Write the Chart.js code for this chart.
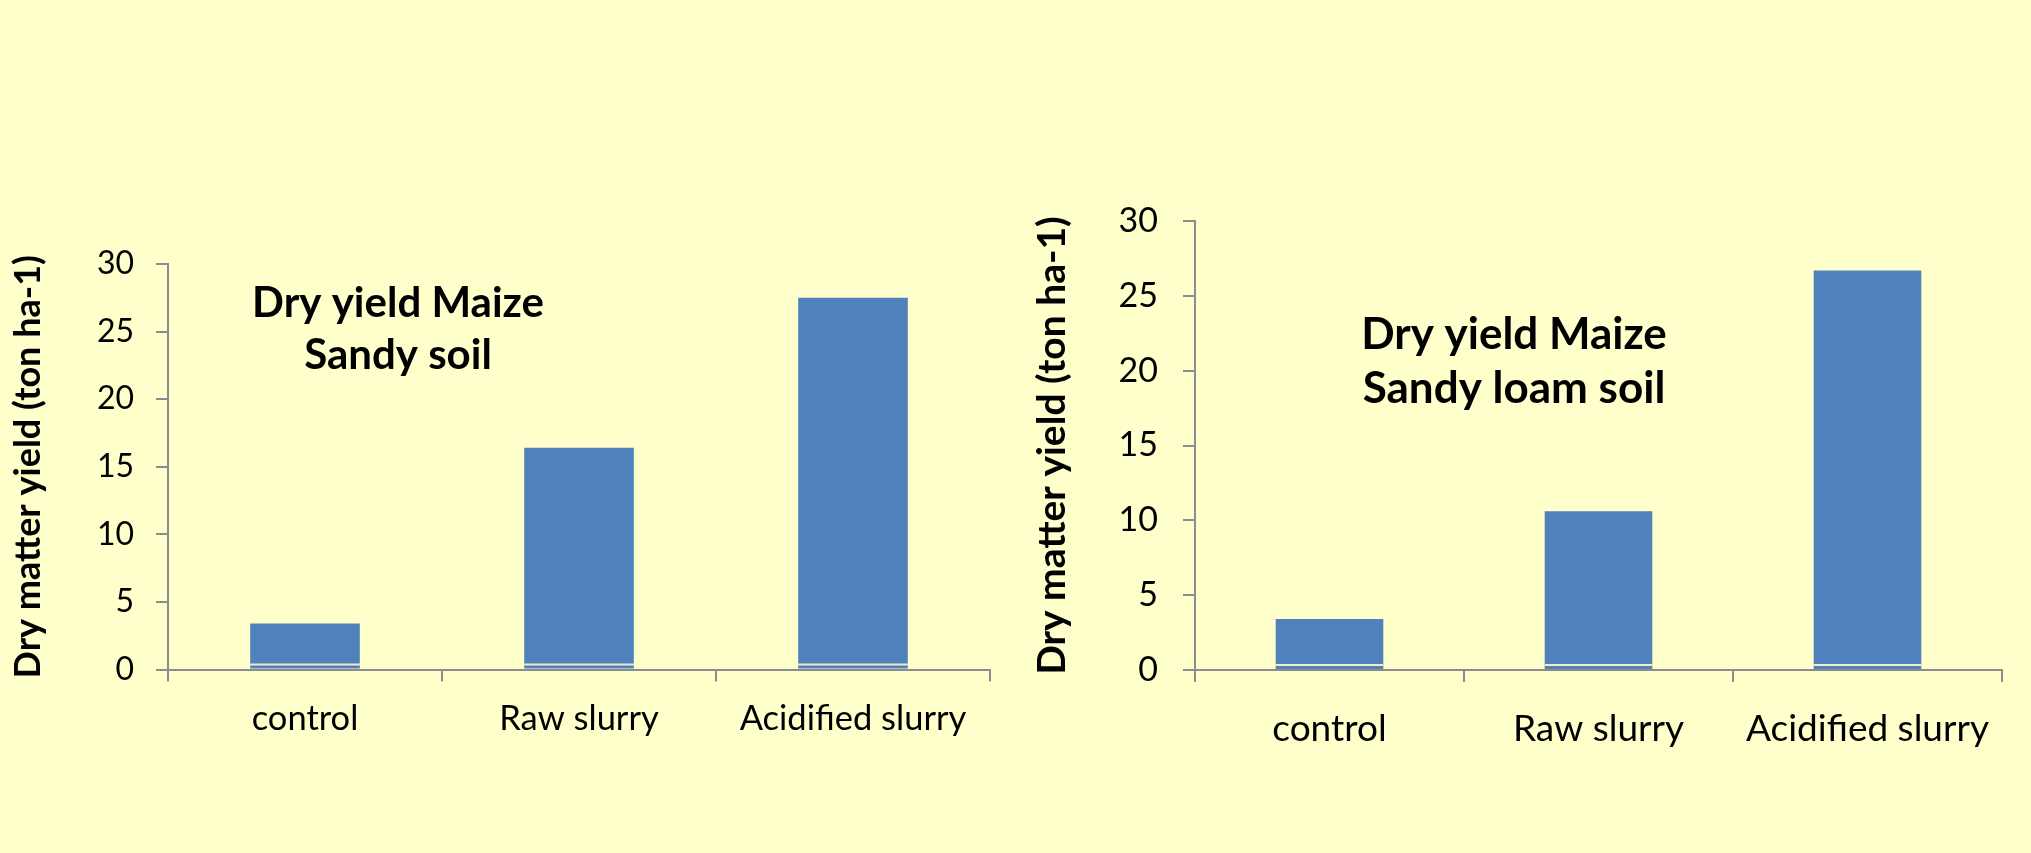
<!DOCTYPE html>
<html>
<head>
<meta charset="utf-8">
<title>Dry yield Maize</title>
<script src="https://cdn.jsdelivr.net/npm/chart.js@4.4.1/dist/chart.umd.min.js"></script>
<style>
  html, body { margin: 0; padding: 0; background: #FFFFCC; }
  body { width: 2031px; height: 853px; position: relative; overflow: hidden; }
  canvas { position: absolute; top: 0; }
  #sandyChart { left: 0; }
  #loamChart { left: 1010px; }
</style>
</head>
<body>
<canvas id="sandyChart" width="1010" height="853"></canvas>
<canvas id="loamChart" width="1021" height="853"></canvas>
<script>
// treatments on the x axis
const treatments = ['control', 'Raw slurry', 'Acidified slurry'];

// dry matter yield, ton ha-1
const sandyYield = [3.4, 16.4, 27.5];
const loamYield = [3.4, 10.6, 26.7];

const yTicks = [0, 5, 10, 15, 20, 25, 30];
const yTitle = 'Dry matter yield (ton ha-1)';
const sandyLabel = ['Dry yield Maize', 'Sandy soil'];
const loamLabel = ['Dry yield Maize', 'Sandy loam soil'];

const barColor = '#4F81BD';
const axisColor = '#8C8C8C';

// draws the two-line label inside the plot area
const insideLabel = {
  id: 'insideLabel',
  afterDraw(chart, args, opts) {
    const ctx = chart.ctx;
    const area = chart.chartArea;
    ctx.save();
    ctx.font = `bold ${opts.size}px Lato`;
    ctx.fillStyle = '#000';
    ctx.textAlign = 'center';
    ctx.textBaseline = 'alphabetic';
    opts.lines.forEach((line, i) => {
      ctx.fillText(line, area.left + opts.dx, area.top + opts.dy + i * opts.gap);
    });
    ctx.restore();
  }
};

// pale stripe just above the base of every bar
const baseStripe = {
  id: 'baseStripe',
  afterDatasetsDraw(chart) {
    const ctx = chart.ctx;
    ctx.save();
    ctx.strokeStyle = '#EDEFC8';
    ctx.lineWidth = 2;
    chart.getDatasetMeta(0).data.forEach(bar => {
      const y = bar.base - 4;
      ctx.beginPath();
      ctx.moveTo(bar.x - bar.width / 2, y);
      ctx.lineTo(bar.x + bar.width / 2, y);
      ctx.stroke();
    });
    ctx.restore();
  }
};

function makeChart(id, values, s) {
  const ctx = document.getElementById(id).getContext('2d');
  return new Chart(ctx, {
    type: 'bar',
    data: {
      labels: treatments,
      datasets: [{
        data: values,
        backgroundColor: barColor,
        borderWidth: 0,
        barPercentage: 0.4,
        categoryPercentage: 1.0
      }]
    },
    plugins: [baseStripe, insideLabel],
    options: {
      responsive: false,
      animation: false,
      events: [],
      layout: { padding: s.padding },
      plugins: {
        legend: { display: false },
        tooltip: { enabled: false },
        insideLabel: s.label
      },
      scales: {
        x: {
          grid: {
            display: true,
            offset: true,
            drawOnChartArea: false,
            drawTicks: true,
            tickLength: 12,
            color: axisColor,
            lineWidth: 2
          },
          border: { display: true, color: axisColor, width: 2 },
          ticks: {
            color: '#000',
            padding: s.xPad,
            maxRotation: 0,
            font: { family: 'Lato', size: s.catSize }
          },
          afterFit(scale) {
            scale.height = 120;
            scale.paddingLeft = 0;
            scale.paddingRight = 0;
          }
        },
        y: {
          min: 0,
          max: 30,
          afterBuildTicks(scale) {
            scale.ticks = yTicks.map(v => ({ value: v }));
          },
          grid: {
            display: true,
            drawOnChartArea: false,
            drawTicks: true,
            tickLength: 12,
            color: axisColor,
            lineWidth: 2
          },
          border: { display: true, color: axisColor, width: 2 },
          ticks: {
            color: '#000',
            padding: s.yPad,
            font: { family: 'Lato', size: s.tickSize }
          },
          title: {
            display: true,
            text: yTitle,
            color: '#000',
            padding: { top: s.titlePad, bottom: 0 },
            font: { family: 'Lato', size: s.titleSize, weight: 'bold' }
          },
          afterFit(scale) {
            scale.width = s.yWidth;
            scale.paddingTop = 0;
            scale.paddingBottom = 0;
          }
        }
      }
    }
  });
}

makeChart('sandyChart', sandyYield, {
  padding: { left: 0, right: 20, top: 264, bottom: 63.5 },
  yWidth: 168,
  yPad: 22,
  xPad: 17,
  tickSize: 32,
  catSize: 34.5,
  titleSize: 36,
  titlePad: 7,
  label: { lines: sandyLabel, size: 42, dx: 230, dy: 53, gap: 52 }
});

makeChart('loamChart', loamYield, {
  padding: { left: 0, right: 29, top: 221, bottom: 63 },
  yWidth: 185,
  yPad: 25,
  xPad: 25,
  tickSize: 34,
  catSize: 37,
  titleSize: 39,
  titlePad: 19,
  label: { lines: loamLabel, size: 44, dx: 319, dy: 128, gap: 54 }
});
</script>
</body>
</html>
